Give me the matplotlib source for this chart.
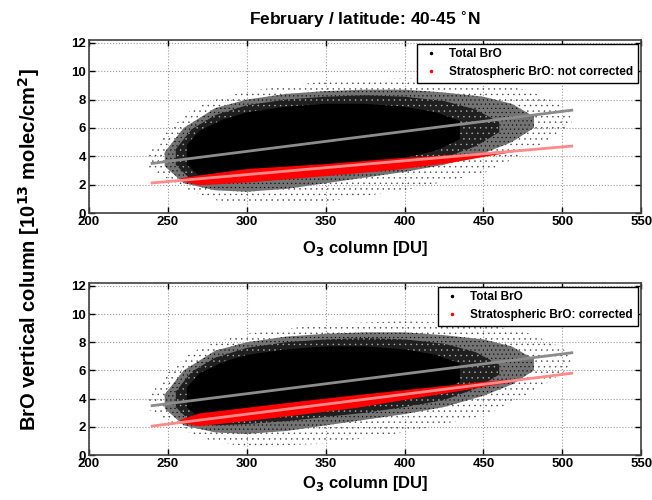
import matplotlib
matplotlib.use("Agg")
import matplotlib.pyplot as plt
import numpy as np

plt.rcParams['font.family'] = ['Liberation Sans', 'DejaVu Sans']
plt.rcParams['font.weight'] = 'bold'
plt.rcParams['mathtext.default'] = 'bf'
plt.rcParams['hatch.linewidth'] = 0.3

# fitted lines (endpoints)
line_x = [240, 506]
total_fit = [3.5, 7.25]
strat_fit_nc = [2.12, 4.72]
strat_fit_c = [2.05, 5.8]

# total BrO cloud, envelopes (same in both panels)
sparse_x = [238, 250, 265, 280, 300, 350, 400, 450, 480, 500, 506]
sparse_hi = [4.2, 5.8, 7.3, 8.0, 8.6, 9.3, 9.5, 9.3, 8.6, 7.6, 6.8]
sparse_lo = [3.2, 2.4, 1.5, 0.9, 0.6, 0.8, 1.6, 2.8, 4.4, 5.8, 6.4]

halo_x = [248, 260, 280, 300, 325, 350, 375, 400, 425, 450, 468, 482]
halo_hi = [4.3, 6.0, 7.4, 8.0, 8.4, 8.6, 8.7, 8.7, 8.5, 8.2, 7.7, 6.8]
halo_lo = [3.3, 2.1, 1.6, 1.5, 1.7, 2.1, 2.5, 2.9, 3.4, 4.2, 5.0, 6.0]

inner_x = [255, 265, 280, 300, 325, 350, 375, 400, 425, 445, 460]
inner_hi = [4.5, 5.9, 6.9, 7.6, 8.0, 8.2, 8.3, 8.2, 7.9, 7.3, 6.4]
inner_lo = [3.4, 2.3, 2.1, 2.2, 2.4, 2.7, 3.0, 3.4, 3.9, 4.7, 5.7]

core_x = [262, 270, 285, 300, 325, 350, 375, 400, 420, 435]
core_hi = [4.8, 5.8, 6.6, 7.1, 7.5, 7.7, 7.7, 7.5, 7.1, 6.5]
core_lo = [3.4, 2.6, 2.6, 2.7, 2.9, 3.2, 3.5, 3.9, 4.4, 5.2]

# stratospheric BrO band
red_x_nc = [258, 270, 300, 350, 395, 430, 455, 470]
red_hi_nc = [2.45, 2.65, 3.1, 3.45, 3.85, 4.1, 4.3, 4.42]
red_lo_nc = [2.25, 1.95, 2.15, 2.6, 3.05, 3.55, 4.05, 4.32]
red_x_c = [258, 270, 300, 334, 370, 400, 430, 451, 470]
red_hi_c = [2.5, 2.95, 3.35, 3.8, 4.25, 4.6, 4.95, 5.2, 5.38]
red_lo_c = [2.25, 2.05, 2.4, 2.85, 3.35, 3.9, 4.45, 4.85, 5.2]

fig = plt.figure(figsize=(6.52, 5.0), dpi=100)

panels = [
    ([0.1365, 0.574, 0.847, 0.346], red_x_nc, red_hi_nc, red_lo_nc,
     strat_fit_nc, "Stratospheric BrO: not corrected", 8),
    ([0.1365, 0.090, 0.847, 0.344], red_x_c, red_hi_c, red_lo_c,
     strat_fit_c, "Stratospheric BrO: corrected", 3),
]

for i, (rect, r_x, r_hi, r_lo, s_fit, lab, lpad) in enumerate(panels):
    ax = fig.add_axes(rect)
    ax.set_xlim(200, 550)
    ax.set_ylim(0, 12.2)
    ax.set_xticks(np.arange(200, 551, 50))
    ax.set_yticks(np.arange(0, 13, 2))
    ax.grid(True, linestyle=':', color='0.6', linewidth=0.8)
    ax.set_axisbelow(True)

    # density layers of the scatter cloud, lightest first
    ax.fill_between(sparse_x, sparse_lo, sparse_hi, facecolor='none',
                    edgecolor='0.25', hatch='...', linewidth=0, zorder=2)
    ax.fill_between(halo_x, halo_lo, halo_hi, facecolor='0.45',
                    edgecolor='black', hatch='....', linewidth=0, zorder=3)
    ax.fill_between(inner_x, inner_lo, inner_hi, facecolor='0.12',
                    edgecolor='0.7', hatch='...', linewidth=0, zorder=4)
    ax.fill_between(core_x, core_lo, core_hi, facecolor='black',
                    linewidth=0, zorder=5)
    ax.fill_between(r_x, r_lo, r_hi, facecolor='#ff0000',
                    linewidth=0, zorder=6)

    ax.plot(line_x, total_fit, color='0.55', linewidth=2, zorder=7)
    ax.plot(line_x, s_fit, color='#ff8a8a', linewidth=2, zorder=7)

    ax.plot([], [], '.', color='black', markersize=3, label='Total BrO')
    ax.plot([], [], '.', color='red', markersize=3, label=lab)
    leg = ax.legend(loc='upper right', fontsize=8.5, fancybox=False,
                    framealpha=1, edgecolor='black', borderaxespad=0.3,
                    handlelength=1.5, borderpad=0.4, labelspacing=0.5)
    leg.get_frame().set_linewidth(1)

    ax.tick_params(direction='in', length=4, labelsize=9.5, width=1,
                   top=True, right=True, pad=2)
    for s in ax.spines.values():
        s.set_linewidth(1.2)
        s.set_color('0.25')
    ax.set_xlabel("O$_3$ column [DU]", fontsize=12, fontweight='bold',
                  labelpad=lpad)
    if i == 0:
        ax.set_title("February / latitude: 40-45 $^{\\circ}$N", fontsize=12.5,
                     fontweight='bold', pad=11)

fig.text(0.045, 0.5, "BrO vertical column [10$^{13}$ molec/cm$^2$]",
         rotation=90, va='center', ha='center', fontsize=14.5,
         fontweight='bold')

fig.savefig("out.png", dpi=100)
